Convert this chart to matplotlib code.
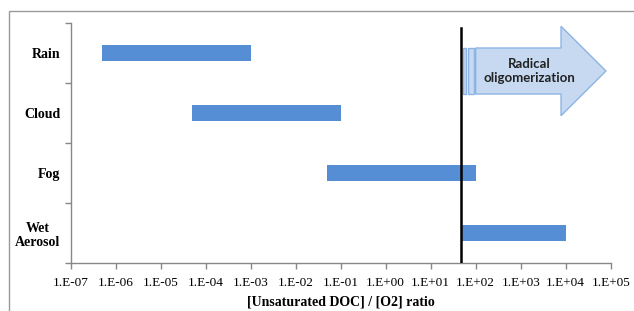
import matplotlib
matplotlib.use("Agg")
import matplotlib.pyplot as plt
from matplotlib.patches import Polygon, Rectangle
import numpy as np

categories = ["Rain", "Cloud", "Fog", "Wet\nAerosol"]
range_low = [5e-7, 5e-5, 5e-2, 50]
range_high = [1e-3, 1e-1, 1e2, 1e4]
threshold = 47
tick_labels = ["1.E-07", "1.E-06", "1.E-05", "1.E-04", "1.E-03", "1.E-02", "1.E-01",
               "1.E+00", "1.E+01", "1.E+02", "1.E+03", "1.E+04", "1.E+05"]
arrow_text = "Radical\noligomerization"

W, H = 634, 311
fig = plt.figure(figsize=(W / 100, H / 100), dpi=100)
ax = fig.add_axes([70.7 / W, (H - 263) / H, 540 / W, 240 / H])

serif = "Liberation Serif"
bar_color = "#558ED5"
ypos = np.arange(len(categories))
ax.barh(ypos, np.array(range_high) - np.array(range_low), left=range_low,
        height=0.28, color=bar_color, zorder=2)

ax.set_xscale("log")
ax.set_xlim(1e-7, 1e5)
ax.set_ylim(len(categories) - 0.5, -0.5)

ticks = [10.0 ** e for e in range(-7, 6)]
ax.set_xticks(ticks)
ax.set_xticklabels(tick_labels, fontfamily=serif, fontsize=9.5)
ax.xaxis.set_minor_locator(matplotlib.ticker.NullLocator())
ax.set_yticks(ypos)
ax.set_yticklabels(categories, fontfamily=serif, fontsize=10, fontweight="bold")
ax.set_yticks(np.arange(-0.5, len(categories)), minor=True)
ax.tick_params(axis="y", which="major", length=0, pad=7.5)
ax.tick_params(axis="y", which="minor", length=4, color="#888888", width=1)
ax.tick_params(axis="x", which="major", length=4, color="#888888", width=1, pad=6)
for lab in ax.get_yticklabels():
    lab.set_horizontalalignment("right")
    lab.set_multialignment("center")

for s in ["top", "right"]:
    ax.spines[s].set_visible(False)
for s in ["left", "bottom"]:
    ax.spines[s].set_color("#888888")
    ax.spines[s].set_linewidth(1)

ax.set_xlabel("[Unsaturated DOC] / [O2] ratio", fontfamily=serif, fontsize=10,
              fontweight="bold", labelpad=5)

ax.axvline(threshold, ymin=0, ymax=(263 - 28) / 240, color="black", lw=1.8, zorder=4)

# arrow (y in category units, x in data)
yc = 0.3
sh = 23 / 60
hh = 44.7 / 60
fill = "#C6D9F1"
edge = "#8DB4E3"
arrow = Polygon([(1e2, yc - sh), (7870, yc - sh), (7870, yc - hh), (7.87e4, yc),
                 (7870, yc + hh), (7870, yc + sh), (1e2, yc + sh)],
                closed=True, facecolor=fill, edgecolor=edge, lw=1, zorder=3)
ax.add_patch(arrow)
for x0, x1 in [(51.4, 60), (67.5, 93)]:
    ax.add_patch(Rectangle((x0, yc - sh), x1 - x0, 2 * sh, facecolor=fill,
                           edgecolor=edge, lw=1, zorder=3))
ax.text(10 ** 3.2, yc, arrow_text, ha="center", va="center", fontfamily="Lato",
        fontweight="bold", fontsize=9.5, color="#222222", zorder=5, linespacing=1.3)

# chart border
fig.patches.append(Rectangle((9 / W, -0.1), 1.2, (H - 11) / H + 0.1, transform=fig.transFigure,
                             fill=False, edgecolor="#999999", lw=1))

fig.savefig("out.png", dpi=100)
